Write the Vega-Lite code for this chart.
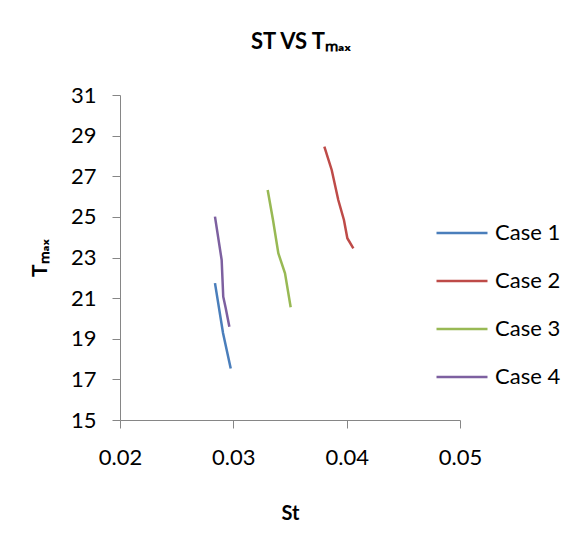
{
  "$schema": "https://vega.github.io/schema/vega-lite/v6.json",
  "width": 340,
  "height": 325,
  "autosize": {"type": "none"},
  "padding": {"left": 120, "top": 95, "right": 126, "bottom": 122},
  "background": "white",
  "title": {"text": "ST VS Tₘₐₓ", "font": "Lato", "fontSize": 22, "fontWeight": "bold", "color": "#000000", "anchor": "middle", "dx": 11, "offset": 30},
  "data": {"values": [
    {"case": "Case 1", "i": 1, "st": 0.02838, "t": 21.74},
    {"case": "Case 1", "i": 2, "st": 0.02909, "t": 19.28},
    {"case": "Case 1", "i": 3, "st": 0.02977, "t": 17.54},
    {"case": "Case 2", "i": 1, "st": 0.03803, "t": 28.46},
    {"case": "Case 2", "i": 2, "st": 0.03868, "t": 27.31},
    {"case": "Case 2", "i": 3, "st": 0.03926, "t": 25.83},
    {"case": "Case 2", "i": 4, "st": 0.03976, "t": 24.85},
    {"case": "Case 2", "i": 5, "st": 0.04006, "t": 23.95},
    {"case": "Case 2", "i": 6, "st": 0.04059, "t": 23.45},
    {"case": "Case 3", "i": 1, "st": 0.03303, "t": 26.32},
    {"case": "Case 3", "i": 2, "st": 0.03350, "t": 24.85},
    {"case": "Case 3", "i": 3, "st": 0.03397, "t": 23.21},
    {"case": "Case 3", "i": 4, "st": 0.03456, "t": 22.22},
    {"case": "Case 3", "i": 5, "st": 0.03506, "t": 20.55},
    {"case": "Case 4", "i": 1, "st": 0.02838, "t": 25.01},
    {"case": "Case 4", "i": 2, "st": 0.02897, "t": 22.88},
    {"case": "Case 4", "i": 3, "st": 0.02911, "t": 21.07},
    {"case": "Case 4", "i": 4, "st": 0.02933, "t": 20.50},
    {"case": "Case 4", "i": 5, "st": 0.02965, "t": 19.59}
  ]},
  "mark": {"type": "line", "strokeWidth": 2.5},
  "encoding": {
    "x": {"field": "st", "type": "quantitative", "title": "St",
      "scale": {"domain": [0.02, 0.05], "zero": false, "nice": false},
      "axis": {"values": [0.02, 0.03, 0.04, 0.05], "format": ".2f", "grid": false, "domainColor": "#868686", "tickColor": "#868686", "tickSize": 8, "labelFont": "Lato", "labelFontSize": 22, "labelColor": "#000000", "labelPadding": 19, "titleFont": "Lato", "titleFontSize": 20, "titleFontWeight": "bold", "titleColor": "#000000", "titlePadding": 35, "labelFlush": false}},
    "y": {"field": "t", "type": "quantitative", "title": "Tₘₐₓ",
      "scale": {"domain": [15, 31], "zero": false, "nice": false},
      "axis": {"values": [15, 17, 19, 21, 23, 25, 27, 29, 31], "grid": false, "domainColor": "#868686", "tickColor": "#868686", "tickSize": 8, "labelFont": "Lato", "labelFontSize": 22, "labelColor": "#000000", "labelPadding": 16, "titleFont": "Lato", "titleFontSize": 21, "titleFontWeight": "bold", "titleColor": "#000000", "titlePadding": 20}},
    "color": {"field": "case", "type": "nominal", "title": null,
      "scale": {"domain": ["Case 1", "Case 2", "Case 3", "Case 4"], "range": ["#4A7EBB", "#BE4B48", "#98B954", "#7D60A0"]},
      "legend": {"orient": "none", "legendX": 315, "legendY": 111, "padding": 0, "symbolType": "stroke", "symbolSize": 2600, "symbolStrokeWidth": 2.5, "rowPadding": 10, "labelFont": "Lato", "labelFontSize": 22, "labelColor": "#000000", "labelOffset": 6}},
    "order": {"field": "i", "type": "quantitative"}
  },
  "config": {"view": {"stroke": null}}
}
